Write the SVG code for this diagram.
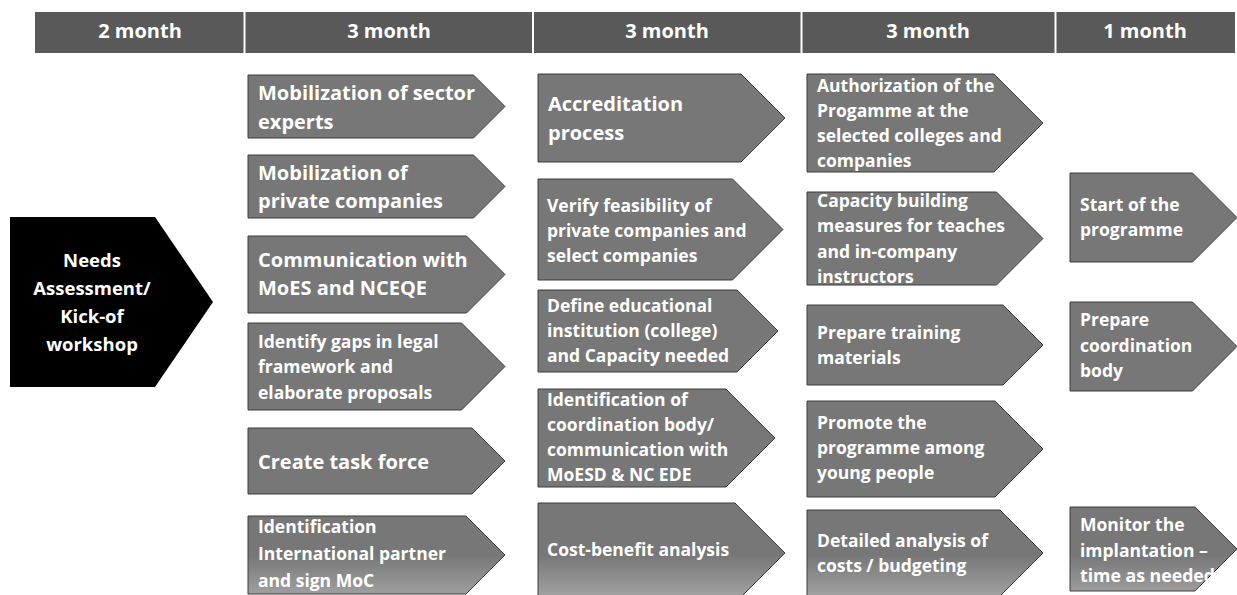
<svg xmlns="http://www.w3.org/2000/svg" width="1237" height="595" viewBox="0 0 1237 595">
<style>
text{font-family:"Open Sans","Lato","Liberation Sans",sans-serif;font-weight:bold;fill:#fff}
.hd{font-size:20px;text-anchor:middle}
.big{font-size:20px}
.sm{font-size:17.5px}
.blk{font-size:18.5px;text-anchor:middle}
.box{fill:#777;stroke:#3c3c3c;stroke-width:1}
.boxg{fill:url(#fade);stroke:#3c3c3c;stroke-width:1}
</style>
<defs>
<linearGradient id="fade" gradientUnits="userSpaceOnUse" x1="0" y1="555" x2="0" y2="595">
<stop offset="0" stop-color="#777"/>
<stop offset="1" stop-color="#a0a0a0"/>
</linearGradient>
</defs>
<g id="header">
<rect x="35" y="12" width="1200" height="41" fill="#595959"/>
<g stroke="#fff" stroke-width="2">
<line x1="244.5" y1="12" x2="244.5" y2="53"/>
<line x1="533" y1="12" x2="533" y2="53"/>
<line x1="801.5" y1="12" x2="801.5" y2="53"/>
<line x1="1055.5" y1="12" x2="1055.5" y2="53"/>
</g>
<text class="hd" x="140" y="38">2 month</text>
<text class="hd" x="389" y="38">3 month</text>
<text class="hd" x="667" y="38">3 month</text>
<text class="hd" x="928" y="38">3 month</text>
<text class="hd" x="1145" y="38">1 month</text>
</g>
<g id="connectors"></g>
<g id="needs">
<path d="M10,217 H155 L213,302 L155,387 H10 Z" fill="#000"/>
<text class="blk" x="92" y="267">Needs</text>
<text class="blk" x="92" y="295">Assessment/</text>
<text class="blk" x="92" y="323">Kick-of</text>
<text class="blk" x="92" y="351">workshop</text>
</g>
<g id="c1n1">
<path class="box" d="M248,75 H473.5 L505,106.5 L473.5,138 H248 Z"/>
<text class="big" x="258" y="100">Mobilization of sector</text>
<text class="big" x="258" y="129">experts</text>
</g>
<g id="c1n2">
<path class="box" d="M248,155 H473.5 L505,186.5 L473.5,218 H248 Z"/>
<text class="big" x="258" y="180">Mobilization of</text>
<text class="big" x="258" y="208">private companies</text>
</g>
<g id="c1n3">
<path class="box" d="M248,236 H466.5 L505,274.5 L466.5,313 H248 Z"/>
<text class="big" x="258" y="267">Communication with</text>
<text class="big" x="258" y="295">MoES and NCEQE</text>
</g>
<g id="c1n4">
<path class="box" d="M248,323 H461.5 L505,366.5 L461.5,410 H248 Z"/>
<text class="sm" x="258" y="348">Identify gaps in legal</text>
<text class="sm" x="258" y="373">framework and</text>
<text class="sm" x="258" y="399">elaborate proposals</text>
</g>
<g id="c1n5">
<path class="box" d="M248,428 H472 L505,461 L472,494 H248 Z"/>
<text class="big" x="258" y="469">Create task force</text>
</g>
<g id="c1n6">
<path class="boxg" d="M248,516 H466 L505,555 L466,594 H248 Z"/>
<text class="sm" x="258" y="533">Identification</text>
<text class="sm" x="258" y="560">International partner</text>
<text class="sm" x="258" y="587">and sign MoC</text>
</g>
<g id="c2n1">
<path class="box" d="M538,74 H741 L785,118 L741,162 H538 Z"/>
<text class="big" x="548" y="111">Accreditation</text>
<text class="big" x="548" y="140">process</text>
</g>
<g id="c2n2">
<path class="box" d="M538,179 H732.5 L783,229.5 L732.5,280 H538 Z"/>
<text class="sm" x="547" y="212">Verify feasibility of</text>
<text class="sm" x="547" y="237">private companies and</text>
<text class="sm" x="547" y="262">select companies</text>
</g>
<g id="c2n3">
<path class="box" d="M538,290 H737 L778,331 L737,372 H538 Z"/>
<text class="sm" x="547" y="312">Define educational</text>
<text class="sm" x="547" y="337">institution (college)</text>
<text class="sm" x="547" y="362">and Capacity needed</text>
</g>
<g id="c2n4">
<path class="box" d="M538,389 H726 L775,438 L726,487 H538 Z"/>
<text class="sm" x="547" y="406">Identification of</text>
<text class="sm" x="547" y="431">coordination body/</text>
<text class="sm" x="547" y="456">communication with</text>
<text class="sm" x="547" y="481">MoESD &amp; NC EDE</text>
</g>
<g id="c2n5">
<path class="boxg" d="M538,503 H735 L785,553 L735,603 H538 Z"/>
<text class="sm" x="547" y="556">Cost-benefit analysis</text>
</g>
<g id="c3n1">
<path class="box" d="M807,74 H994 L1043,123 L994,172 H807 Z"/>
<text class="sm" x="817" y="92">Authorization of the</text>
<text class="sm" x="817" y="117">Progamme at the</text>
<text class="sm" x="817" y="142">selected colleges and</text>
<text class="sm" x="817" y="167">companies</text>
</g>
<g id="c3n2">
<path class="box" d="M807,192 H996.5 L1043,238.5 L996.5,285 H807 Z"/>
<text class="sm" x="817" y="207">Capacity building</text>
<text class="sm" x="817" y="232">measures for teaches</text>
<text class="sm" x="817" y="258">and in-company</text>
<text class="sm" x="817" y="283">instructors</text>
</g>
<g id="c3n3">
<path class="box" d="M807,305 H1003 L1043,345 L1003,385 H807 Z"/>
<text class="sm" x="817" y="339">Prepare training</text>
<text class="sm" x="817" y="364">materials</text>
</g>
<g id="c3n4">
<path class="box" d="M807,401 H995 L1043,449 L995,497 H807 Z"/>
<text class="sm" x="817" y="429">Promote the</text>
<text class="sm" x="817" y="454">programme among</text>
<text class="sm" x="817" y="479">young people</text>
</g>
<g id="c3n5">
<path class="boxg" d="M807,510 H1000 L1043,553 L1000,596 H807 Z"/>
<text class="sm" x="817" y="547">Detailed analysis of</text>
<text class="sm" x="817" y="572">costs / budgeting</text>
</g>
<g id="c4n1">
<path class="box" d="M1070,173 H1192.5 L1237,217.5 L1192.5,262 H1070 Z"/>
<text class="sm" x="1080" y="211">Start of the</text>
<text class="sm" x="1080" y="236">programme</text>
</g>
<g id="c4n2">
<path class="box" d="M1070,302 H1192.5 L1237,346.5 L1192.5,391 H1070 Z"/>
<text class="sm" x="1080" y="326">Prepare</text>
<text class="sm" x="1080" y="352">coordination</text>
<text class="sm" x="1080" y="377">body</text>
</g>
<g id="c4n3">
<path class="boxg" d="M1070,507 H1195 L1237,549 L1195,591 H1070 Z"/>
<text class="sm" x="1080" y="531">Monitor the</text>
<text class="sm" x="1080" y="557">implantation –</text>
<text class="sm" x="1080" y="582" textLength="135" lengthAdjust="spacingAndGlyphs">time as needed</text>
</g>
</svg>
